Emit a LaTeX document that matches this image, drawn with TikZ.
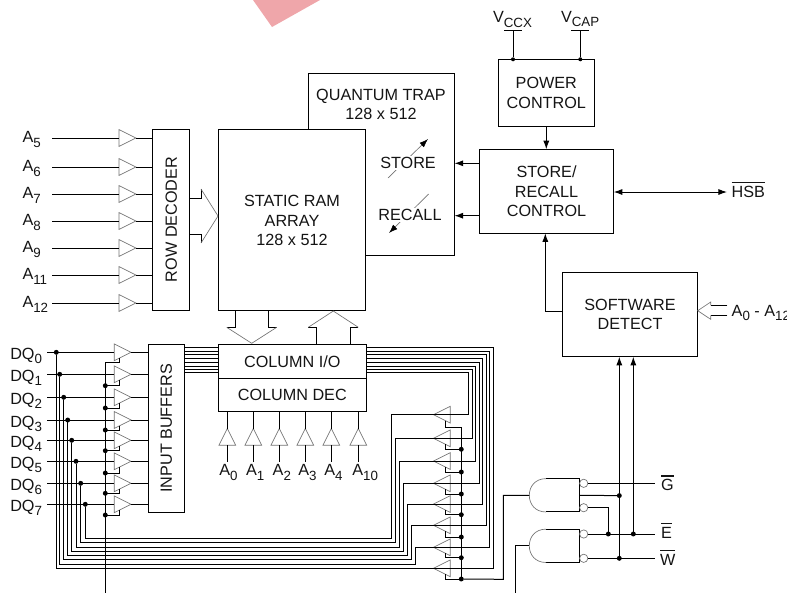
\documentclass[tikz,border=0pt]{standalone}
\usepackage{fontspec}
\setmainfont{Liberation Sans}
\usetikzlibrary{calc,shapes.geometric,arrows.meta}

\definecolor{stamp}{HTML}{EFA6AA}
\newcommand{\lowsub}[1]{\raisebox{-3.3pt}{\fontsize{10}{12}\selectfont #1}}
\newcommand{\barred}[1]{\vbox{\hrule height .95pt \kern 1.9pt\hbox{#1}}}

\begin{document}
\begin{tikzpicture}[x=.75pt, y=-.75pt
        , every path/.style={ line width=.75pt }
        , every node/.style={ font=\fontsize{12.15}{14.5}\selectfont, text=black!92, inner sep=0pt, outer sep=0pt }
        , block/.style 2 args={ draw, align=center, minimum width=#1*.75pt, minimum height=#2*.75pt }
        , buf/.style={ isosceles triangle, isosceles triangle stretches, draw=black!55, line width=.5pt
            , minimum width=12.6pt, minimum height=12.6pt }
        , dot/.style={ circle, fill=black, minimum size=3.7pt }
        , bubble/.style={ circle, draw=black!55, line width=.5pt, minimum size=6.2pt }
        , gate/.style={ minimum width=37.8pt, minimum height=25pt }
        , thinline/.style={ draw=black!55, line width=.5pt }
        , tip/.style={ -{Latex[length=6.5pt,width=4.6pt]} }
        ]

    \useasboundingbox (0,0) rectangle (787,594);
    \fill[stamp] (253,0) -- (272,27) -- (320,0) -- cycle;

    % memory blocks
    \node[block={146}{181.5}] (trap) at (381.5,164.3) {};
    \node[block={147}{180.5},fill=white] (ram) at (292,219.8) {};
    \node[align=center] (ramtitle) at (292,220.6) {STATIC RAM\\ARRAY\\128 x 512};
    \node[align=center] (traptitle) at (381,104.6) {QUANTUM TRAP\\128 x 512};
    \draw[thinline,-{Latex[length=6.5pt,width=4.6pt,black]}] (388,178) -- (428,139);
    \draw[thinline,-{Latex[length=6.5pt,width=4.6pt,black]}] (428.7,194) -- (389,233);
    \node[fill=white,inner sep=1pt] (store) at (408,162.6) {STORE};
    \node[fill=white,inner sep=1pt] (recall) at (410,214.6) {RECALL};
    \node[block={148}{34}] (colio) at (292.3,361.3) {COLUMN I/O};
    \node[block={148}{33}] (coldec) at (292.3,394.8) {COLUMN DEC};
    \node[block={36.5}{181}] (rowdec) at (171.2,219.5) {\rotatebox{90}{ROW DECODER}};
    \node[block={36}{168}] (inbuf) at (166.3,428.3) {\rotatebox{90}{INPUT BUFFERS}};

    % control blocks
    \node[block={96}{67}] (power) at (546.3,92.8) {POWER\\CONTROL};
    \node[block={134.4}{84}] (storectl) at (546.5,191.3) {STORE/\\RECALL\\CONTROL};
    \node[block={135.4}{84.4}] (soft) at (630,314.5) {SOFTWARE\\DETECT};

    % row address inputs
    \foreach \y/\lab [count=\i] in {138/5,167/6,194/7,221/8,248/9,275/11,303/12} {
        \node[buf,anchor=west] (rb\i) at (119,\y) {};
        \node[anchor=base west] (ra\i) at (22.5,\y+4.6) {A\lowsub{\lab}};
        \coordinate (rs\i) at (52,\y);
        \draw (rs\i) -- (rb\i.west);
        \draw (rb\i.east) -- (rowdec.west |- rb\i.east);
    }

    % column address inputs
    \foreach \x/\lab/\lx [count=\i] in {227.3/0/219.3,253.3/1/246,279.3/2/272.7,305.3/3/298.3,331.3/4/324.3,358.3/10/352.3} {
        \node[buf,shape border rotate=90,anchor=south] (cb\i) at (\x,445.3) {};
        \node[anchor=base west] (ca\i) at (\lx,475.7) {A\lowsub{\lab}};
        \draw (cb\i.north) -- (cb\i.north |- coldec.south);
        \draw (cb\i.south) -- ++(0,16.4);
    }

    % hollow bus arrows
    \draw (rowdec.east |- 0,198) -| (201,189);
    \draw (rowdec.east |- 0,234) -| (201,243);
    \draw[thinline] (201,189) -- (218,216) -- (201,243);
    \draw (235.7,0 |- ram.south) |- (226.7,327.3);
    \draw (268.3,0 |- ram.south) |- (276.7,327.3);
    \draw[thinline] (226.7,327.3) -- (251.7,343.3) -- (276.7,327.3);
    \draw (316.7,0 |- colio.north) |- (308.3,327.3);
    \draw (350,0 |- colio.north) |- (358.3,327.3);
    \draw[thinline] (308.3,327.3) -- (333.3,311) -- (358.3,327.3);
    \coordinate (swa) at (727.3,305.3);
    \coordinate (swb) at (727.3,315.3);
    \draw (swa) -- (710.7,305.3);
    \draw (swb) -- (710.7,315.3);
    \draw[thinline] (710.7,305.3) -- (710.7,302) -- (soft.east |- 0,310.7) -- (710.7,319.3) -- (710.7,315.3);
    \node[anchor=base west] (swlab) at (731.7,316) {A\lowsub{0} - A\lowsub{12}};

    % data lines, in and out buffers
    \coordinate (enl) at (105.3,593);
    \draw (105.3,362.3) -- (enl);
    \draw (461.3,427.3) -- (461.3,579);
    \foreach \y/\dx/\el/\yb/\xl/\ty/\er/\xr/\yt [count=\i from 0] in {
            352.3/56.3/362.3/568.3/434/568.3/579/493.7/347.7,
            374.3/59.7/385.7/564.3/415.7/547.3/557.7/489.7/351.3,
            397.3/63.7/408/559.7/411.7/525.3/537/486.7/354.7,
            420/67.7/430/555.3/407.7/504/514.7/482.3/358,
            440.3/71.7/450.7/551.3/403.7/483.3/494/479.3/362.3,
            461.3/76/473/547.3/399.3/461/472/475.7/366,
            483.3/80.7/493.3/542.7/395.3/438.3/449.3/472.3/369,
            504.3/85.3/515/538.3/391.7/414.7/427.3/468.7/372.7} {
        \node[buf,anchor=west] (ib\i) at (114.3,\y) {};
        \node[buf,shape border rotate=180,anchor=east] (ob\i) at (450.3,\ty) {};
        \node[anchor=base west] (dq\i) at (10.3,\y+7) {DQ\lowsub{\i}};
        \node[dot] (dd\i) at (\dx,\y) {};
        \coordinate (ds\i) at (47,\y);
        \draw (ds\i) -- (ib\i.west);
        \draw (ib\i.east) -- (inbuf.west |- ib\i.east);
        \draw (ib\i.south) |- (105.3,\el);
        \draw (dd\i) |- (\xl,\yb) |- (ob\i.east);
        \draw (ob\i.south) |- (461.3,\er);
        \draw (ob\i.west) -| (\xr,\yt) -- (colio.east |- 0,\yt);
        \draw (inbuf.east |- 0,\yt) -- (colio.west |- 0,\yt);
    }
    \foreach \y [count=\i] in {385.7,408,430,450.7,473,493.3,515}
        \node[dot] (el\i) at (105.3,\y) {};
    \foreach \y [count=\i] in {449.3,472,494,514.7,537,557.7,579}
        \node[dot] (er\i) at (461.3,\y) {};

    % gates
    \node[gate] (nandt) at (554.5,495.3) {};
    \node[gate] (nandb) at (554.5,545.8) {};
    \foreach \g in {nandt,nandb} {
        \draw ($(\g.north west)+(16.7,0)$) -- (\g.north east) -- (\g.south east) -- ($(\g.south west)+(16.7,0)$);
        \draw[thinline] ($(\g.north west)+(16.7,0)$) .. controls ($(\g.north west)+(6,0)$) and ($(\g.west)+(0,-9)$) .. (\g.west)
            .. controls ($(\g.west)+(0,9)$) and ($(\g.south west)+(6,0)$) .. ($(\g.south west)+(16.7,0)$);
    }
    \node[bubble] (bg) at (583.7,483.3) {};
    \node[bubble] (bt) at (583.7,507.7) {};
    \node[bubble] (be) at (583.7,534) {};
    \node[bubble] (bw) at (583.7,558.3) {};
    \node[dot] (dg) at (619.3,495.6) {};
    \node[dot] (de1) at (608.3,534) {};
    \node[dot] (de2) at (633.3,534) {};
    \node[dot] (dw) at (619.3,558.3) {};
    \coordinate (eg) at (655,483.3);
    \coordinate (ee) at (655,534);
    \coordinate (ew) at (655,558.3);
    \draw (bg) -- (eg);
    \draw (be) -- (ee);
    \draw (bw) -- (ew);
    \draw (nandt.east) -- (dg);
    \draw (bt) -| (de1);
    \draw[tip] (dw) -- (soft.south -| dw);
    \draw[tip] (de2) -- (soft.south -| de2);
    \draw (nandt.west) -| (503.3,579.3) -- (er7);
    \coordinate (enb) at (515.7,593);
    \draw (nandb.west) -| (enb);
    \node[anchor=base west] (sg) at (661,490.5) {\barred{G}};
    \node[anchor=base west] (se) at (661,538) {\barred{E}};
    \node[anchor=base west] (sw) at (660,565) {\barred{W}};

    % power and control arrows
    \node[dot,minimum size=3pt] (vx) at (513,59.3) {};
    \node[dot,minimum size=3pt] (vc) at (580.3,59.3) {};
    \coordinate (vxt) at (513,30.3);
    \coordinate (vct) at (580.3,30.3);
    \draw (vx) -- (vxt) (504.3,30.3) -- (521.7,30.3);
    \draw (vc) -- (vct) (571.3,30.3) -- (588.7,30.3);
    \node[anchor=base west] (vccx) at (493,22.7) {V\lowsub{CCX}};
    \node[anchor=base west] (vcap) at (561,22) {V\lowsub{CAP}};
    \draw[tip] (power.south) -- (power.south |- storectl.north);
    \draw[tip] (storectl.west |- 0,163.3) -- (trap.east |- 0,163.3);
    \draw[tip] (storectl.west |- 0,215.7) -- (trap.east |- 0,215.7);
    \coordinate (hs) at (727,192);
    \draw[{Latex[length=6.5pt,width=4.6pt]}-{Latex[length=6.5pt,width=4.6pt]}] (storectl.east |- hs) -- (hs);
    \node[anchor=base west] (hsb) at (731.7,197) {\barred{HSB}};
    \draw[tip] (soft.west |- 0,311.3) -| (storectl.south -| 545.3,0);

\end{tikzpicture}
\end{document}
